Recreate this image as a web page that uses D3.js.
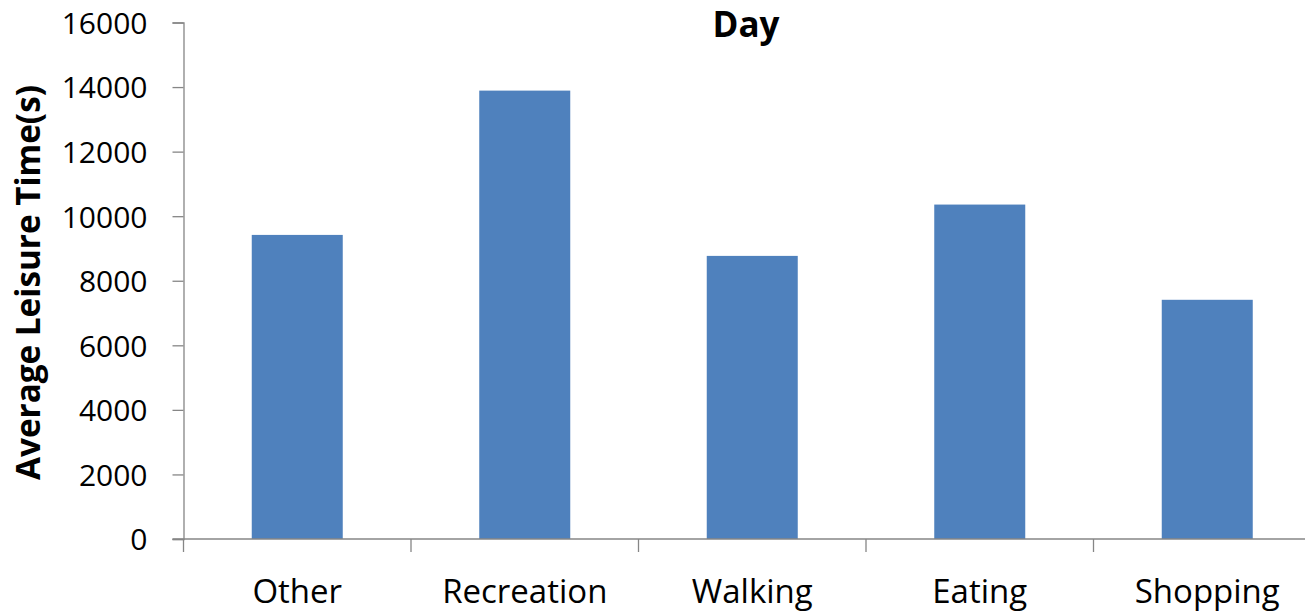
<!DOCTYPE html>
<html>
<head>
<meta charset="utf-8">
<script src="https://cdn.jsdelivr.net/npm/d3@7"></script>
<style>
  html, body { margin: 0; padding: 0; background: #fff; overflow: hidden; }
  svg { display: block; font-family: "Open Sans", Lato, sans-serif; }
</style>
</head>
<body>
<svg id="chart" width="1305" height="613"></svg>
<script>
// Average leisure time per activity during the day (seconds)
const categories = ["Other", "Recreation", "Walking", "Eating", "Shopping"];
const values = [9420, 13890, 8770, 10360, 7410];
const yTicks = [0, 2000, 4000, 6000, 8000, 10000, 12000, 14000, 16000];
const title = "Day";
const yTitle = "Average Leisure Time(s)";

const svg = d3.select("#chart");
const plot = { left: 183.5, right: 1321, top: 22.5, bottom: 539 };
const axisColor = "#868686";

const x = d3.scaleBand()
  .domain(categories)
  .range([plot.left, plot.right])
  .paddingInner(0.6)
  .paddingOuter(0.3);

const y = d3.scaleLinear()
  .domain([0, 16000])
  .range([plot.bottom, plot.top]);

// bars
svg.append("g")
  .selectAll("rect")
  .data(categories.map((c, i) => ({ c, v: values[i] })))
  .join("rect")
  .attr("x", d => x(d.c))
  .attr("width", x.bandwidth())
  .attr("y", d => y(d.v))
  .attr("height", d => y(0) - y(d.v))
  .attr("fill", "#4F81BD");

// y axis
const yAxis = svg.append("g")
  .attr("transform", `translate(${plot.left},0)`)
  .call(d3.axisLeft(y).tickValues(yTicks).tickFormat(d3.format("d")).tickSize(11).tickPadding(25));
yAxis.select(".domain").attr("stroke", axisColor).attr("stroke-width", 1.3);
yAxis.selectAll(".tick line").attr("stroke", axisColor).attr("stroke-width", 1.3);
yAxis.selectAll(".tick text")
  .attr("font-size", 30)
  .attr("font-family", "'Open Sans', sans-serif")
  .attr("fill", "#000")
  .attr("dy", "0.36em");

// x axis: tick marks sit on the category boundaries
const xAxisG = svg.append("g").attr("transform", `translate(0,${plot.bottom})`);
xAxisG.append("line")
  .attr("x1", plot.left - 11).attr("x2", plot.right)
  .attr("stroke", axisColor).attr("stroke-width", 1.3);
const boundaries = d3.range(categories.length + 1).map(i => plot.left + i * (plot.right - plot.left) / categories.length);
xAxisG.selectAll("line.tick")
  .data(boundaries)
  .join("line")
  .attr("class", "tick")
  .attr("x1", d => d).attr("x2", d => d)
  .attr("y1", 0).attr("y2", 13)
  .attr("stroke", axisColor).attr("stroke-width", 1.3);
xAxisG.selectAll("text")
  .data(categories)
  .join("text")
  .attr("x", d => x(d) + x.bandwidth() / 2)
  .attr("y", 64)
  .attr("text-anchor", "middle")
  .attr("font-size", 33)
  .attr("fill", "#000")
  .text(d => d);

// title
svg.append("text")
  .attr("x", 746)
  .attr("y", 37)
  .attr("text-anchor", "middle")
  .attr("font-size", 35)
  .attr("font-weight", "bold")
  .attr("fill", "#000")
  .text(title);

// y axis title, sized to span the axis height
const yt = svg.append("text")
  .attr("transform", `translate(40,${(85 + 480) / 2}) rotate(-90)`)
  .attr("text-anchor", "middle")
  .attr("font-size", 30)
  .attr("font-weight", "bold")
  .attr("fill", "#000")
  .text(yTitle);
const ytLen = yt.node().getComputedTextLength();
yt.attr("font-size", 30 * 395 / ytLen);
</script>
</body>
</html>
